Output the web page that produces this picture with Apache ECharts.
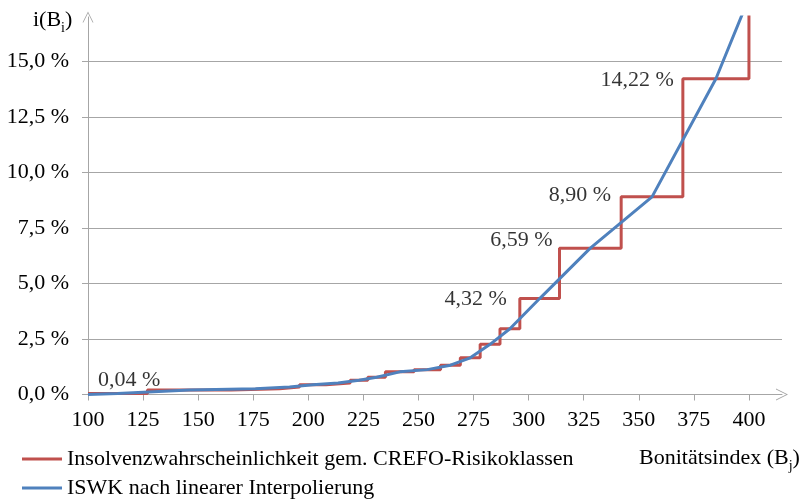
<!DOCTYPE html>
<html>
<head>
<meta charset="utf-8">
<script src="https://cdn.jsdelivr.net/npm/echarts@6/dist/echarts.min.js"></script>
<style>
html, body { margin: 0; padding: 0; background: #fff; }
#chart { width: 806px; height: 503px; }
</style>
</head>
<body>
<div id="chart"></div>
<script>
// Beginn der CREFO-Risikoklassen (Bonitätsindex) und Insolvenzwahrscheinlichkeit in %
var classStart = [100, 127, 165, 187, 196, 208, 219, 227, 235, 248, 260, 269, 278, 287, 296, 314, 342, 370, 400];
var classPd = [0.04, 0.20, 0.26, 0.34, 0.44, 0.52, 0.64, 0.78, 1.02, 1.12, 1.32, 1.65, 2.26, 2.96, 4.32, 6.59, 8.90, 14.22, 25];

// Stützstellen der linearen Interpolation (ISWK)
var iswkX = [100, 113.5, 146, 176, 191.5, 202, 213.5, 223, 231, 241.5, 254, 264.5, 273.5, 282.5, 291.5, 305, 328, 356, 385, 415];
var iswkY = [0.00, 0.04, 0.20, 0.26, 0.34, 0.44, 0.52, 0.64, 0.78, 1.02, 1.12, 1.32, 1.65, 2.26, 2.96, 4.32, 6.59, 8.90, 14.22, 21.5];

var xTicks = [100, 125, 150, 175, 200, 225, 250, 275, 300, 325, 350, 375, 400];
var yTicks = [0, 2.5, 5, 7.5, 10, 12.5, 15];

// welche Klassen beschriftet werden
var labelIdx = [0, 14, 15, 16, 17];

var seriesNames = ['Insolvenzwahrscheinlichkeit gem. CREFO-Risikoklassen', 'ISWK nach linearer Interpolierung'];

var FONT = 'Liberation Serif';
var GREY = '#A6A6A6';

function pct(v, d) {
    return v.toFixed(d).replace('.', ',') + ' %';
}

var redData = [];
for (let i = 0; i < classStart.length; i++) {
    redData.push([classStart[i], classPd[i]]);
}
var blueData = [];
for (let i = 0; i < iswkX.length; i++) {
    blueData.push([iswkX[i], iswkY[i]]);
}

// Beschriftungen
var labelStyle = {
    0: { position: 'right', distance: 10, offset: [0, -13] },
    14: { position: 'left', distance: 13, offset: [0, 1] },
    15: { position: 'left', distance: 7, offset: [0, -8] },
    16: { position: 'left', distance: 10, offset: [0, -2] },
    17: { position: 'left', distance: 9, offset: [0, 1] }
};
var labelData = [];
for (let k = 0; k < labelIdx.length; k++) {
    let i = labelIdx[k];
    let s = labelStyle[i];
    labelData.push({
        value: [classStart[i], classPd[i]],
        label: {
            show: true,
            position: s.position,
            distance: s.distance,
            offset: s.offset,
            formatter: pct(classPd[i], 2)
        }
    });
}

var chart = echarts.init(document.getElementById('chart'));

var arrow = 'path://M0,10 L5,0 L10,10 L9.2,10 L5,1.6 L0.8,10 Z';

var option = {
    animation: false,
    textStyle: { fontFamily: FONT },
    grid: { left: 88, right: 24, top: 17, bottom: 108.5, containLabel: false },
    xAxis: {
        type: 'value',
        min: 100,
        max: 415,
        interval: 25,
        axisLine: {
            show: true,
            symbol: ['none', arrow],
            symbolSize: [16, 12],
            lineStyle: { color: GREY, width: 1 }
        },
        axisTick: { show: true, length: 6, customValues: xTicks, lineStyle: { color: GREY } },
        axisLabel: {
            customValues: xTicks,
            margin: 15,
            color: '#000',
            fontSize: 22,
            fontFamily: FONT
        },
        splitLine: { show: false }
    },
    yAxis: {
        type: 'value',
        min: 0,
        max: 17,
        interval: 2.5,
        axisLine: {
            show: true,
            symbol: ['none', arrow],
            symbolSize: [15, 11],
            lineStyle: { color: GREY, width: 1 }
        },
        axisTick: { show: true, length: 6, customValues: yTicks, lineStyle: { color: GREY } },
        axisLabel: {
            customValues: yTicks,
            margin: 19,
            color: '#000',
            fontSize: 22,
            fontFamily: FONT,
            formatter: function (v) { return pct(v, 1); }
        },
        splitLine: {
            show: true,
            lineStyle: { color: [GREY, GREY, GREY, GREY, GREY, GREY, GREY, 'rgba(0,0,0,0)'], width: 1 }
        }
    },
    legend: {
        data: seriesNames,
        orient: 'vertical',
        left: 22,
        top: 448,
        padding: 0,
        itemWidth: 40,
        itemHeight: 3,
        itemGap: 7,
        icon: 'rect',
        textStyle: { fontSize: 22, fontFamily: FONT, color: '#000' }
    },
    graphic: [
        {
            type: 'text',
            left: 33,
            top: 9,
            style: {
                text: '{t|i(B}{s|i}{t|)}',
                rich: {
                    t: { fontSize: 22, fontFamily: FONT, fill: '#000', padding: [0, 0, 4, 0], verticalAlign: 'bottom' },
                    s: { fontSize: 14, fontFamily: FONT, fill: '#000', verticalAlign: 'bottom' }
                }
            }
        },
        {
            type: 'text',
            left: 639,
            top: 447,
            style: {
                text: '{t|Bonitätsindex (B}{s|j}{t|)}',
                rich: {
                    t: { fontSize: 22, fontFamily: FONT, fill: '#000', padding: [0, 0, 4, 0], verticalAlign: 'bottom' },
                    s: { fontSize: 14, fontFamily: FONT, fill: '#000', verticalAlign: 'bottom' }
                }
            }
        }
    ],
    series: [
        {
            name: seriesNames[0],
            type: 'line',
            step: 'end',
            data: redData,
            showSymbol: false,
            lineStyle: { color: '#C0504D', width: 3 },
            itemStyle: { color: '#C0504D' },
            clip: true,
            z: 2
        },
        {
            name: seriesNames[1],
            type: 'line',
            data: blueData,
            showSymbol: false,
            lineStyle: { color: '#4F81BD', width: 3 },
            itemStyle: { color: '#4F81BD' },
            clip: true,
            z: 3
        },
        {
            name: 'labels',
            type: 'scatter',
            data: labelData,
            symbolSize: 0,
            silent: true,
            label: { color: '#000', fontSize: 22, fontFamily: FONT },
            z: 4
        }
    ]
};

chart.setOption(option);
</script>
</body>
</html>
